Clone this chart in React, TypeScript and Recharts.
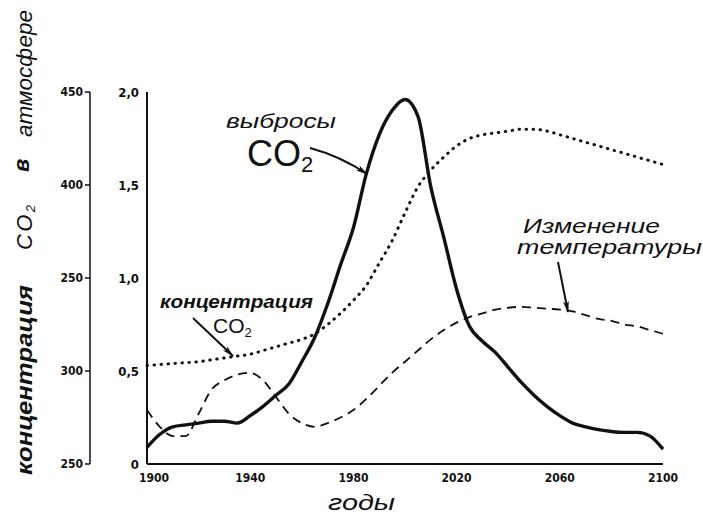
import React from "react";
import { ComposedChart, Line, XAxis, YAxis } from "recharts";

// years of the curves
const years = [
  1900, 1905, 1910, 1915, 1920, 1925, 1930, 1935, 1940, 1945, 1950, 1955, 1960, 1965,
  1970, 1975, 1980, 1985, 1990, 1995, 2000, 2005, 2010, 2015, 2020, 2025, 2030, 2035,
  2040, 2045, 2050, 2055, 2060, 2065, 2070, 2075, 2080, 2085, 2090, 2095, 2100,
];

// выбросы CO2 (inner scale 0..2,0)
const emissions = [
  0.09, 0.16, 0.2, 0.21, 0.22, 0.23, 0.23, 0.22, 0.26, 0.31, 0.37, 0.43, 0.55, 0.68,
  0.86, 1.07, 1.27, 1.56, 1.77, 1.9, 1.96, 1.87, 1.49, 1.22, 0.94, 0.74, 0.66, 0.6,
  0.52, 0.44, 0.37, 0.31, 0.26, 0.22, 0.2, 0.185, 0.175, 0.17, 0.17, 0.15, 0.08,
];

// концентрация CO2, ppm (outer scale 250..450)
const concentration = [
  303, 303.5, 304, 304.5, 305, 306, 307, 308, 309, 311, 313, 315, 317, 320, 325, 331,
  338, 346, 358, 370, 385, 399, 408, 415, 421, 425, 427, 428, 429, 430, 430, 429, 427,
  425, 423, 421, 419, 417, 415, 413, 411,
];

// изменение температуры (inner scale)
const temperature = [
  0.29, 0.2, 0.15, 0.15, 0.27, 0.4, 0.45, 0.48, 0.49, 0.45, 0.36, 0.27, 0.22, 0.2,
  0.22, 0.25, 0.29, 0.35, 0.42, 0.49, 0.55, 0.61, 0.67, 0.72, 0.76, 0.79, 0.81, 0.83,
  0.84, 0.845, 0.84, 0.835, 0.83, 0.82, 0.8, 0.78, 0.77, 0.75, 0.74, 0.72, 0.7,
];

const yearTicks = [1900, 1940, 1980, 2020, 2060, 2100];
const yearTickLabels = ["1900", "1940", "1980", "2020", "2060", "2100"];
const valueTicks = [0, 0.5, 1, 1.5, 2];
const valueTickLabels = ["0", "0,5", "1,0", "1,5", "2,0"];
const concTicks = [250, 300, 350, 400, 450];
const concTickLabels = ["250", "300", "250", "400", "450"];

const data = years.map((year, i) => ({
  year,
  emissions: emissions[i],
  concentration: concentration[i],
  temperature: temperature[i],
}));

const ink = "#111";
const hand = "'Liberation Sans', 'DejaVu Sans', sans-serif";
const tickFamily = "'DejaVu Sans Condensed', 'DejaVu Sans', sans-serif";
const tickFont = { fill: ink, fontSize: 12, fontWeight: 700, fontFamily: tickFamily };

// first year label sits a little right of the axis corner, as in the drawing
function YearTick(props: any) {
  const { x, y, payload } = props;
  const i = yearTicks.indexOf(payload.value);
  const shift = i === 0 ? 7 : 0;
  return (
    <text x={x + shift} y={y + 10} textAnchor="middle" fill={ink} fontSize={12} fontWeight={700} fontFamily={tickFamily}>
      {yearTickLabels[i]}
    </text>
  );
}

function Annotations() {
  return (
    <svg
      width={703}
      height={520}
      style={{ position: "absolute", left: 0, top: 0, pointerEvents: "none" }}
    >
      <defs>
        <marker id="head" viewBox="0 0 12 6" refX="11" refY="3" markerWidth="12" markerHeight="6" orient="auto" markerUnits="userSpaceOnUse">
          <path d="M0,0 L12,3 L0,6 L3,3 Z" fill={ink} />
        </marker>
      </defs>
      <g fill={ink} fontFamily={hand} fontStyle="italic">
        {/* выбросы */}
        <text x={226} y={128} fontSize={21} textLength={110} lengthAdjust="spacingAndGlyphs">выбросы</text>
        <text x={247} y={166} fontSize={36} fontStyle="normal">CO<tspan fontSize={22} dy={6}>2</tspan></text>
        <path d="M310,148 Q340,156 367,174" fill="none" stroke={ink} strokeWidth={2} markerEnd="url(#head)" />

        {/* концентрация */}
        <text x={160} y={308} fontSize={18} fontWeight={700} textLength={153} lengthAdjust="spacingAndGlyphs">концентрация</text>
        <text x={213} y={333} fontSize={21} fontStyle="normal">CO<tspan fontSize={13} dy={4}>2</tspan></text>
        <path d="M193,318 L233,356" fill="none" stroke={ink} strokeWidth={2} markerEnd="url(#head)" />

        {/* температура */}
        <text x={523} y={233} fontSize={21} textLength={137} lengthAdjust="spacingAndGlyphs">Изменение</text>
        <text x={517} y={254} fontSize={21} textLength={185} lengthAdjust="spacingAndGlyphs">температуры</text>
        <path d="M558,262 L568,312" fill="none" stroke={ink} strokeWidth={2} markerEnd="url(#head)" />

        {/* подпись оси X */}
        <text x={328} y={510} fontSize={22} textLength={67} lengthAdjust="spacingAndGlyphs">годы</text>

        {/* подпись левой оси */}
        <g transform="translate(32,0) rotate(-90)" fontSize={22}>
          <text x={-475} y={0} textLength={190} lengthAdjust="spacingAndGlyphs" fontWeight={700}>концентрация</text>
          <text x={-250} y={0} textLength={45}>CO<tspan fontSize={13} dy={3}>2</tspan></text>
          <text x={-172} y={-3} textLength={20} fontWeight={700}>в</text>
          <text x={-137} y={0} textLength={127} lengthAdjust="spacingAndGlyphs">атмосфере</text>
        </g>
      </g>
    </svg>
  );
}

export default function App() {
  return (
    <div style={{ position: "absolute", left: 0, top: 0, width: 703, height: 520, background: "#fff" }}>
      <ComposedChart
        width={703}
        height={520}
        data={data}
        margin={{ top: 92, right: 40, left: 40, bottom: 0 }}
      >
        <XAxis
          dataKey="year"
          type="number"
          domain={[1900, 2100]}
          ticks={yearTicks}
          tick={<YearTick />}
          tickLine={false}
          axisLine={{ stroke: ink, strokeWidth: 2 }}
          height={56}
        />
        <YAxis
          yAxisId="a_val"
          domain={[0, 2]}
          ticks={valueTicks}
          tickFormatter={(v: number) => valueTickLabels[valueTicks.indexOf(v)]}
          tick={{ ...tickFont, fontSize: 13 }}
          tickLine={false}
          axisLine={{ stroke: ink, strokeWidth: 2 }}
          width={57}
        />
        <YAxis
          yAxisId="b_conc"
          domain={[250, 450]}
          ticks={concTicks}
          tickFormatter={(v: number) => concTickLabels[concTicks.indexOf(v)]}
          tick={tickFont}
          tickSize={5}
          tickLine={{ stroke: ink, strokeWidth: 1.5 }}
          axisLine={{ stroke: ink, strokeWidth: 1.5 }}
          width={50}
        />
        <Line
          yAxisId="b_conc"
          type="monotone"
          dataKey="concentration"
          stroke={ink}
          strokeWidth={3}
          strokeDasharray="0.5 6.5"
          strokeLinecap="round"
          dot={false}
          isAnimationActive={false}
        />
        <Line
          yAxisId="a_val"
          type="monotone"
          dataKey="temperature"
          stroke={ink}
          strokeWidth={1.8}
          strokeDasharray="9 6"
          dot={false}
          isAnimationActive={false}
        />
        <Line
          yAxisId="a_val"
          type="monotone"
          dataKey="emissions"
          stroke={ink}
          strokeWidth={3.4}
          dot={false}
          isAnimationActive={false}
        />
      </ComposedChart>
      <Annotations />
    </div>
  );
}
